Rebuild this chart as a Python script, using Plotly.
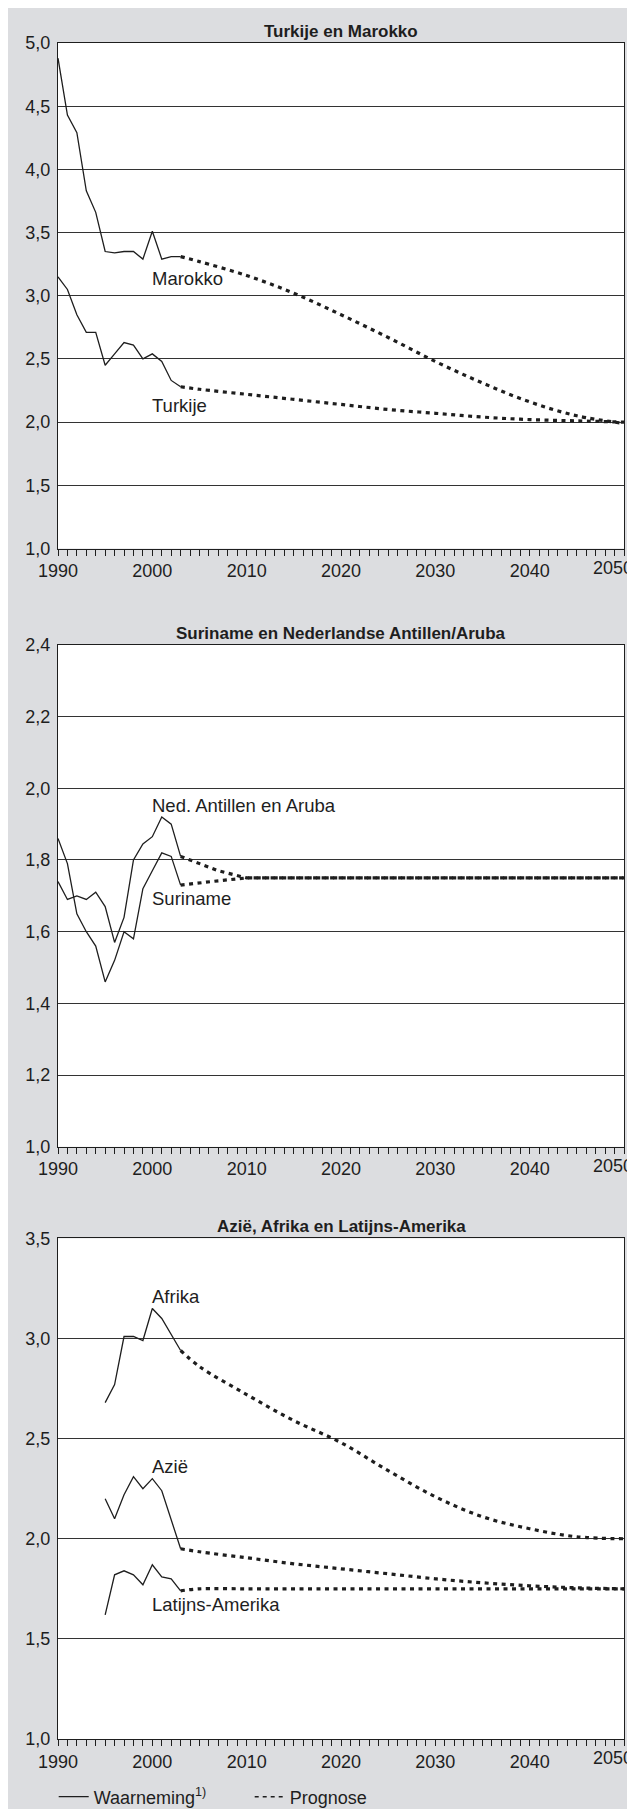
import plotly.graph_objects as go

# ─── Data ─────────────────────────────────────────────────────────────────────

OBS_YEARS = list(range(1990, 2004))
OBS_YEARS_95 = list(range(1995, 2004))

marokko_obs = [4.88, 4.43, 4.29, 3.83, 3.66, 3.35, 3.34, 3.35, 3.35, 3.29, 3.51, 3.29, 3.31, 3.31]
turkije_obs = [3.15, 3.05, 2.85, 2.71, 2.71, 2.45, 2.54, 2.63, 2.61, 2.50, 2.54, 2.48, 2.33, 2.28]

PROG_YEARS = [2003, 2005, 2010, 2015, 2020, 2025, 2030, 2035, 2040, 2045, 2050]
marokko_prog = [3.31, 3.27, 3.16, 3.02, 2.85, 2.67, 2.48, 2.31, 2.16, 2.05, 1.99]
turkije_prog = [2.28, 2.26, 2.22, 2.18, 2.14, 2.10, 2.07, 2.04, 2.02, 2.01, 2.00]

suriname_obs = [1.86, 1.79, 1.65, 1.60, 1.56, 1.46, 1.52, 1.60, 1.58, 1.72, 1.77, 1.82, 1.81, 1.73]
antillen_obs = [1.74, 1.69, 1.70, 1.69, 1.71, 1.67, 1.57, 1.64, 1.80, 1.845, 1.865, 1.92, 1.90, 1.81]

PROG_YEARS_2 = [2003, 2005, 2007, 2010, 2020, 2030, 2040, 2050]
suriname_prog = [1.73, 1.735, 1.742, 1.75, 1.75, 1.75, 1.75, 1.75]
antillen_prog = [1.81, 1.79, 1.77, 1.75, 1.75, 1.75, 1.75, 1.75]

afrika_obs = [2.68, 2.77, 3.01, 3.01, 2.99, 3.15, 3.10, 3.02, 2.94]
azie_obs = [2.20, 2.10, 2.22, 2.31, 2.25, 2.30, 2.24, 2.09, 1.95]
latam_obs = [1.62, 1.82, 1.84, 1.82, 1.77, 1.87, 1.81, 1.80, 1.74]

afrika_prog = [2.94, 2.86, 2.72, 2.59, 2.48, 2.34, 2.21, 2.11, 2.05, 2.01, 2.00]
azie_prog = [1.95, 1.935, 1.905, 1.875, 1.85, 1.825, 1.80, 1.78, 1.765, 1.755, 1.75]
latam_prog = [1.74, 1.75, 1.75, 1.75, 1.75, 1.75, 1.75, 1.75, 1.75, 1.75, 1.75]

X_TICKS = [1990, 2000, 2010, 2020, 2030, 2040, 2050]
X_TICK_TEXT = ["1990", "2000", "2010", "2020", "2030", "2040", ""]  # 2050 placed by hand

# ─── Style ────────────────────────────────────────────────────────────────────

BG_GRAY = "#dcdde0"
INK = "#1e1e1e"
GRID = "#333333"
FONT = "Liberation Sans, Arial, sans-serif"

SOLID = dict(color=INK, width=1.3)
DOTTED = dict(color=INK, width=3.2, dash="4px,4.5px")

fig = go.Figure()


def add_obs(x, y, axis):
    fig.add_trace(go.Scatter(x=x, y=y, mode="lines", line=SOLID, showlegend=False,
                             xaxis="x" + axis, yaxis="y" + axis, hoverinfo="skip"))


def add_prog(x, y, axis, shape="spline"):
    fig.add_trace(go.Scatter(x=x, y=y, mode="lines", line=dict(DOTTED, shape=shape),
                             showlegend=False, xaxis="x" + axis, yaxis="y" + axis,
                             hoverinfo="skip"))


# panel 1
add_obs(OBS_YEARS, marokko_obs, "")
add_obs(OBS_YEARS, turkije_obs, "")
add_prog(PROG_YEARS, marokko_prog, "")
add_prog(PROG_YEARS, turkije_prog, "")
# panel 2
add_obs(OBS_YEARS, suriname_obs, "2")
add_obs(OBS_YEARS, antillen_obs, "2")
add_prog(PROG_YEARS_2, suriname_prog, "2", shape="linear")
add_prog(PROG_YEARS_2, antillen_prog, "2", shape="linear")
# panel 3
add_obs(OBS_YEARS_95, afrika_obs, "3")
add_obs(OBS_YEARS_95, azie_obs, "3")
add_obs(OBS_YEARS_95, latam_obs, "3")
add_prog(PROG_YEARS, afrika_prog, "3")
add_prog(PROG_YEARS, azie_prog, "3")
add_prog(PROG_YEARS, latam_prog, "3")

# legend-only traces
fig.add_trace(go.Scatter(x=[None], y=[None], mode="lines", name="Waarneming<sup>1)</sup>",
                         line=dict(color=INK, width=1.2)))
fig.add_trace(go.Scatter(x=[None], y=[None], mode="lines", name="Prognose",
                         line=dict(color=INK, width=1.6, dash="4px,4px")))

# ─── Axes ─────────────────────────────────────────────────────────────────────

# page body adds an 8px offset; the numbers below are figure pixels
PLOT_L, PLOT_R = 50.3, 616.3
PLOT_TOP, PLOT_BOT = 34.7, 1731.0
H_PLOT = PLOT_BOT - PLOT_TOP
W_PLOT = PLOT_R - PLOT_L

panel_px = [(34.7, 540.3), (636.7, 1138.7), (1230.3, 1731.0)]
domains = [[(PLOT_BOT - b) / H_PLOT, (PLOT_BOT - t) / H_PLOT] for t, b in panel_px]
domains[0][1] = 1.0
domains[2][0] = 0.0

yranges = [[1, 5], [1, 2.4], [1, 3.5]]
ydticks = [0.5, 0.2, 0.5]
titles = ["Turkije en Marokko", "Suriname en Nederlandse Antillen/Aruba",
          "Azië, Afrika en Latijns-Amerika"]

layout_axes = {}
for i in range(3):
    sfx = "" if i == 0 else str(i + 1)
    layout_axes["xaxis" + sfx] = dict(
        domain=[0, 1], anchor="y" + sfx, range=[1990, 2050],
        tickvals=X_TICKS, ticktext=X_TICK_TEXT,
        ticks="outside", ticklen=6, tickwidth=1, tickcolor=INK,
        minor=dict(dtick=1, ticks="outside", ticklen=6, tickwidth=1, tickcolor=INK),
        showgrid=False, zeroline=False, showline=True, linecolor=INK, linewidth=1,
        mirror=True, tickfont=dict(size=18, color=INK), automargin=False,
        ticklabeloverflow="allow",
    )
    layout_axes["yaxis" + sfx] = dict(
        domain=domains[i], anchor="x" + sfx, range=yranges[i], dtick=ydticks[i],
        tick0=1, tickformat=".1f", ticks="", showgrid=True, gridcolor=GRID,
        gridwidth=1, zeroline=False, showline=True, linecolor=INK, linewidth=1,
        mirror=True, tickfont=dict(size=18, color=INK), ticklabelstandoff=3,
        automargin=False, ticklabeloverflow="allow",
    )

annotations = []
for i, t in enumerate(titles):
    sfx = "" if i == 0 else str(i + 1)
    annotations.append(dict(text="<b>" + t + "</b>", xref="x" + sfx + " domain",
                            yref="y" + sfx + " domain", x=0.5, y=1, yanchor="bottom",
                            yshift=0, showarrow=False, font=dict(size=17, color=INK)))
    # last year label, pulled inside the page edge as in the original
    annotations.append(dict(text=str(X_TICKS[-1]), xref="x" + sfx, yref="y" + sfx + " domain",
                            x=X_TICKS[-1], y=0, xanchor="right", yanchor="middle",
                            xshift=10.5, yshift=-19, showarrow=False,
                            font=dict(size=18, color=INK)))

series_labels = [
    ("Marokko", 1999.8, 3.14, ""),
    ("Turkije", 1999.8, 2.13, ""),
    ("Ned. Antillen en Aruba", 1999.8, 1.951, "2"),
    ("Suriname", 1999.8, 1.694, "2"),
    ("Afrika", 1999.8, 3.21, "3"),
    ("Azië", 1999.8, 2.36, "3"),
    ("Latijns-Amerika", 1999.8, 1.673, "3"),
]
for text, lx, ly, sfx in series_labels:
    annotations.append(dict(text=text, x=lx, y=ly, xref="x" + sfx, yref="y" + sfx,
                            xanchor="left", yanchor="middle", showarrow=False,
                            font=dict(size=18.5, color=INK)))

fig.update_layout(
    width=635, height=1809,
    margin=dict(l=PLOT_L, r=635 - PLOT_R, t=PLOT_TOP, b=1809 - PLOT_BOT, autoexpand=False),
    paper_bgcolor=BG_GRAY, plot_bgcolor="white",
    font=dict(family=FONT, size=18, color=INK),
    separators=",.",
    annotations=annotations,
    showlegend=True,
    legend=dict(orientation="h", x=(46 - PLOT_L) / W_PLOT, y=(PLOT_BOT - 1789) / H_PLOT,
                xanchor="left", yanchor="middle", bgcolor="rgba(0,0,0,0)",
                font=dict(size=18, color=INK), entrywidth=151, entrywidthmode="pixels",
                tracegroupgap=0),
    **layout_axes,
)

fig.write_html("out.html")
